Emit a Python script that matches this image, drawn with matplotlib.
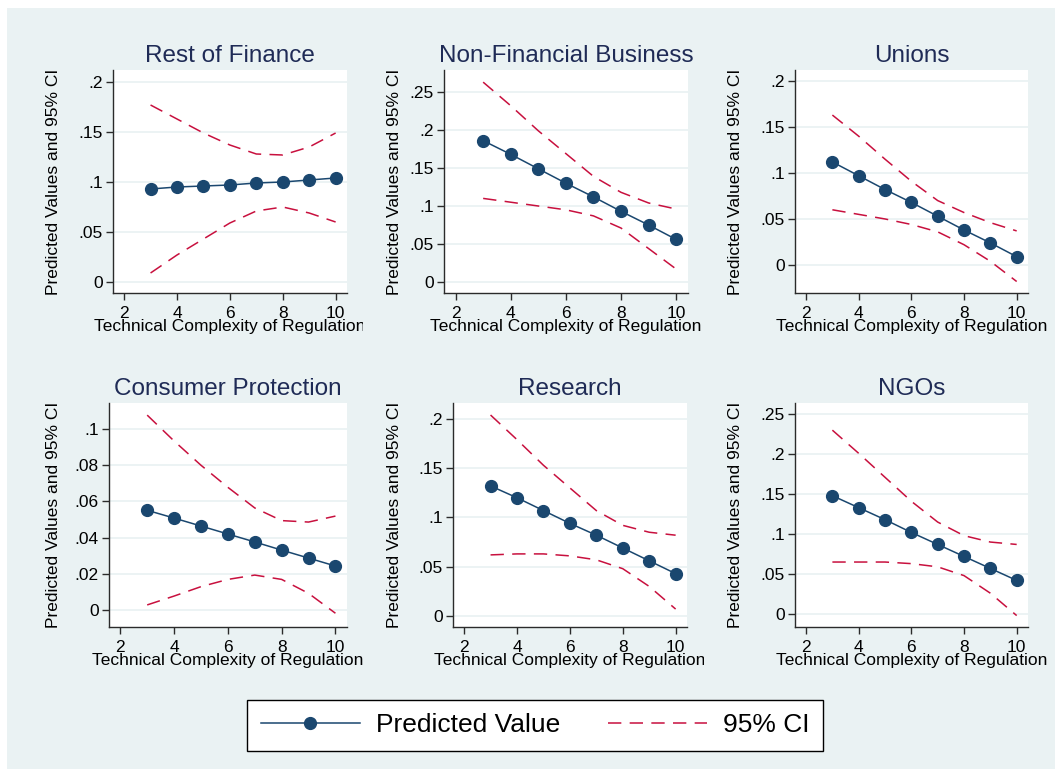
import matplotlib

matplotlib.use("Agg")
import matplotlib.pyplot as plt
from matplotlib.lines import Line2D
from matplotlib.patches import Rectangle
from matplotlib.ticker import FuncFormatter
from matplotlib.transforms import Bbox

# complexity levels on the x axis
complexity = [3, 4, 5, 6, 7, 8, 9, 10]

titles = ["Rest of Finance", "Non-Financial Business", "Unions",
          "Consumer Protection", "Research", "NGOs"]

rest_finance_pred = [0.093, 0.095, 0.096, 0.097, 0.099, 0.100, 0.102, 0.104]
rest_finance_hi = [0.177, 0.163, 0.149, 0.137, 0.128, 0.127, 0.135, 0.149]
rest_finance_lo = [0.009, 0.027, 0.043, 0.059, 0.071, 0.075, 0.069, 0.060]

nonfin_pred = [0.186, 0.168, 0.149, 0.130, 0.112, 0.093, 0.075, 0.056]
nonfin_hi = [0.263, 0.232, 0.199, 0.169, 0.139, 0.118, 0.104, 0.096]
nonfin_lo = [0.110, 0.105, 0.100, 0.095, 0.087, 0.071, 0.044, 0.017]

unions_pred = [0.112, 0.097, 0.082, 0.068, 0.053, 0.038, 0.024, 0.009]
unions_hi = [0.163, 0.140, 0.115, 0.091, 0.070, 0.057, 0.046, 0.037]
unions_lo = [0.060, 0.055, 0.050, 0.044, 0.036, 0.022, 0.004, -0.018]

consumer_pred = [0.0551, 0.0508, 0.0464, 0.0420, 0.0376, 0.0331, 0.0287, 0.0243]
consumer_hi = [0.1077, 0.0934, 0.0800, 0.0678, 0.0564, 0.0494, 0.0486, 0.0519]
consumer_lo = [0.0028, 0.0077, 0.0129, 0.0169, 0.0193, 0.0169, 0.0092, -0.0018]

research_pred = [0.132, 0.120, 0.107, 0.094, 0.082, 0.069, 0.056, 0.043]
research_hi = [0.204, 0.179, 0.153, 0.130, 0.107, 0.092, 0.085, 0.082]
research_lo = [0.062, 0.063, 0.063, 0.061, 0.057, 0.048, 0.030, 0.007]

ngo_pred = [0.148, 0.133, 0.118, 0.102, 0.087, 0.072, 0.057, 0.042]
ngo_hi = [0.230, 0.201, 0.171, 0.141, 0.115, 0.098, 0.090, 0.087]
ngo_lo = [0.065, 0.065, 0.065, 0.063, 0.059, 0.048, 0.026, -0.002]

preds = [rest_finance_pred, nonfin_pred, unions_pred, consumer_pred, research_pred, ngo_pred]
his = [rest_finance_hi, nonfin_hi, unions_hi, consumer_hi, research_hi, ngo_hi]
los = [rest_finance_lo, nonfin_lo, unions_lo, consumer_lo, research_lo, ngo_lo]

yticks = [
    [0, 0.05, 0.1, 0.15, 0.2],
    [0, 0.05, 0.1, 0.15, 0.2, 0.25],
    [0, 0.05, 0.1, 0.15, 0.2],
    [0, 0.02, 0.04, 0.06, 0.08, 0.1],
    [0, 0.05, 0.1, 0.15, 0.2],
    [0, 0.05, 0.1, 0.15, 0.2, 0.25],
]
xticks = [2, 4, 6, 8, 10]

# layout: pixel boxes (left, top, right, bottom), y limits, ylabel x, xlabel clip
W, H = 1055, 769
boxes = [(113, 70, 347, 293), (444, 70, 688, 293), (795, 70, 1028, 293),
         (109, 403, 347, 627), (453, 403, 687, 627), (795, 403, 1028, 627)]
ylims = [(-0.011, 0.212), (-0.0145, 0.279), (-0.0305, 0.212),
         (-0.0094, 0.1144), (-0.0112, 0.2162), (-0.0163, 0.264)]
ylabel_x = [53.5, 394.5, 735, 53.5, 394.5, 735]
clip_right = [363, 704, W, 363, 704, W]

BG = "#EAF2F3"
NAVY = "#1A476F"
RED = "#C8103E"
TITLE = "#1F2B56"
DASH = (9.6, 6)

plt.rcParams["font.family"] = ["Liberation Sans", "DejaVu Sans"]
plt.rcParams["lines.scale_dashes"] = False

fig = plt.figure(figsize=(W / 100, H / 100), dpi=100, facecolor="white")
fig.patches.append(Rectangle((7 / W, 0), 1 - 7 / W, 1 - 8 / H, transform=fig.transFigure,
                             facecolor=BG, edgecolor="none", zorder=-10))


def fmt(v, _pos):
    if abs(v) < 1e-12:
        return "0"
    return f"{v:g}".replace("0.", ".", 1)


for i in range(6):
    l, t, r, b = boxes[i]
    ax = fig.add_axes([l / W, 1 - b / H, (r - l) / W, (b - t) / H])
    ax.set_facecolor("white")

    ax.plot(complexity, his[i], color=RED, lw=1.1, dashes=DASH, zorder=3)
    ax.plot(complexity, los[i], color=RED, lw=1.1, dashes=DASH, zorder=3)
    ax.plot(complexity, preds[i], color=NAVY, lw=1.1, marker="o", markersize=8.5,
            markeredgecolor=NAVY, zorder=4)

    ax.set_xlim(1.58, 10.43)
    ax.set_ylim(*ylims[i])
    ax.set_xticks(xticks)
    ax.set_yticks(yticks[i])
    ax.yaxis.set_major_formatter(FuncFormatter(fmt))
    ax.grid(axis="y", color=BG, lw=1.3, zorder=0)
    ax.set_axisbelow(True)

    for side in ("top", "right"):
        ax.spines[side].set_visible(False)
    for side in ("left", "bottom"):
        ax.spines[side].set_color("#2b2b2b")
        ax.spines[side].set_linewidth(1.0)
    ax.tick_params(axis="both", direction="out", length=5, width=1.0, color="#2b2b2b",
                   labelsize=12.5, labelcolor="black")
    ax.tick_params(axis="x", pad=4.6)
    ax.tick_params(axis="y", pad=2.5)

    ax.set_title(titles[i], fontsize=17.5, color=TITLE, pad=6)
    ax.set_xlabel("Technical Complexity of Regulation", fontsize=12.5, labelpad=-1.5)
    ax.xaxis.label.set_clip_box(Bbox([[0, 0], [clip_right[i], H]]))
    ax.xaxis.label.set_clip_on(True)

    fig.text(ylabel_x[i] / W, 1 - (t + b) / 2 / H, "Predicted Values and 95% CI",
             rotation=90, ha="center", va="center", fontsize=12.5)

handles = [
    Line2D([], [], color=NAVY, lw=1.1, marker="o", markersize=8.5),
    Line2D([], [], color=RED, lw=1.1, dashes=DASH),
]
leg = fig.legend(handles, ["Predicted Value", "95% CI"], loc="center",
                 bbox_to_anchor=(535 / W, 1 - 725.4 / H), ncol=2, numpoints=1,
                 fontsize=19, handlelength=3.75, handletextpad=0.62, columnspacing=1.8,
                 borderpad=0.5, borderaxespad=0, fancybox=False, framealpha=1,
                 edgecolor="black")
leg.get_frame().set_linewidth(1.0)

fig.savefig("out.png", dpi=100, facecolor=fig.get_facecolor())
